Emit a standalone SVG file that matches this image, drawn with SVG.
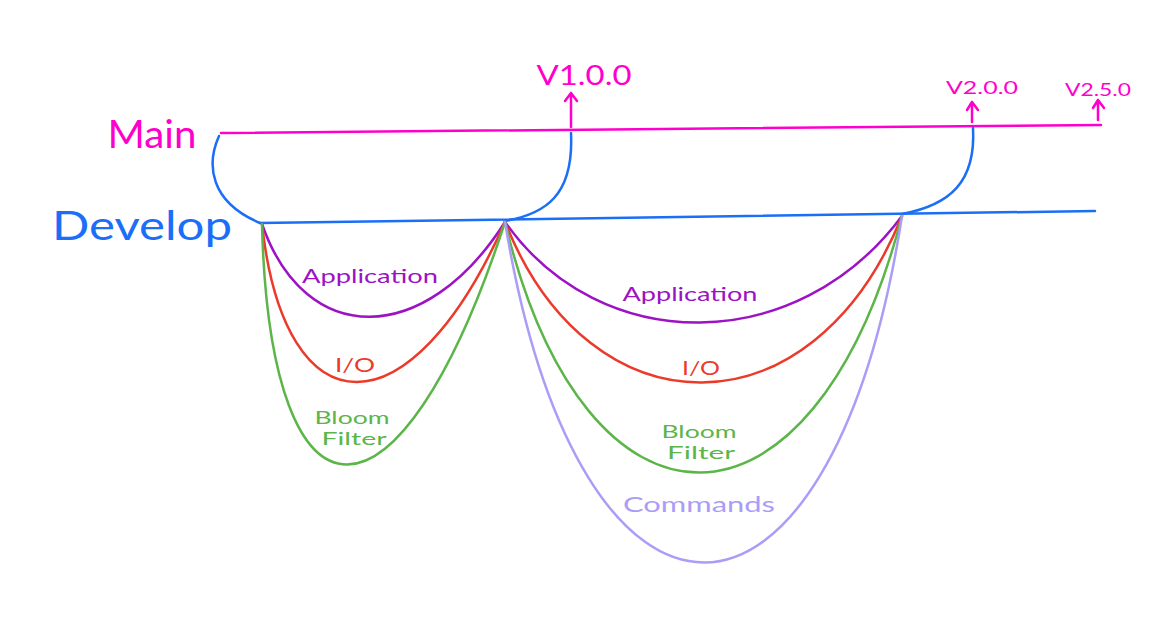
<svg xmlns="http://www.w3.org/2000/svg" width="1159" height="626" viewBox="0 0 1159 626">
<style>
  .ln { fill: none; stroke-width: 2.5; stroke-linecap: round; stroke-linejoin: round; }
  .mag { stroke: #f0c; }
  .blue { stroke: #1a6ef7; }
  .pur { stroke: #9c12c4; }
  .red { stroke: #ec3a2a; }
  .grn { stroke: #5cb548; }
  .lav { stroke: #aa9df8; }
  text { font-family: "Lato", "Noto Sans", sans-serif; text-anchor: middle; }
  .tmag { fill: #f0c; }
  .tblue { fill: #1a6ef7; }
  .tpur { fill: #9c12c4; }
  .tred { fill: #ec3a2a; }
  .tgrn { fill: #5cb548; }
  .tlav { fill: #aa9df8; }
</style>
<rect width="1159" height="626" fill="#fff"/>

<g id="main">
  <text class="tmag" x="152" y="148" font-size="38" textLength="89" lengthAdjust="spacingAndGlyphs">Main</text>
</g>
<g id="develop">
  <text class="tblue" x="142" y="240" font-size="40" textLength="180" lengthAdjust="spacingAndGlyphs">Develop</text>
</g>
<g id="v100">
  <text class="tmag" x="584" y="85" font-size="26" textLength="95" lengthAdjust="spacingAndGlyphs">V1.0.0</text>
</g>
<g id="v200">
  <text class="tmag" x="982" y="94" font-size="18" textLength="72" lengthAdjust="spacingAndGlyphs">V2.0.0</text>
</g>
<g id="v250">
  <text class="tmag" x="1098" y="96" font-size="18" textLength="66" lengthAdjust="spacingAndGlyphs">V2.5.0</text>
</g>

<g id="labels-1">
  <text class="tpur" x="370" y="283" font-size="20" textLength="136" lengthAdjust="spacingAndGlyphs">Application</text>
  <text class="tred" x="355" y="372" font-size="19" textLength="40" lengthAdjust="spacingAndGlyphs">I/O</text>
  <text class="tgrn" x="352" y="424" font-size="17" textLength="75" lengthAdjust="spacingAndGlyphs">Bloom</text>
  <text class="tgrn" x="354" y="445" font-size="17" textLength="65" lengthAdjust="spacingAndGlyphs">Filter</text>
</g>
<g id="labels-2">
  <text class="tpur" x="690" y="301" font-size="20" textLength="135" lengthAdjust="spacingAndGlyphs">Application</text>
  <text class="tred" x="701" y="375" font-size="19" textLength="38" lengthAdjust="spacingAndGlyphs">I/O</text>
  <text class="tgrn" x="699" y="438" font-size="17" textLength="75" lengthAdjust="spacingAndGlyphs">Bloom</text>
  <text class="tgrn" x="701" y="459" font-size="17" textLength="68" lengthAdjust="spacingAndGlyphs">Filter</text>
  <text class="tlav" x="699" y="512" font-size="22" textLength="152" lengthAdjust="spacingAndGlyphs">Commands</text>
</g>

<g id="connectors">
  <path class="ln mag" d="M221,133 L1101,125"/>
  <path class="ln mag" d="M571,127 L571,93 M565,101 L571,93 L577,101"/>
  <path class="ln mag" d="M972,122 L972,102 M967,110 L972,102 L978,110"/>
  <path class="ln mag" d="M1098,120 L1098,100 M1093,108 L1098,100 L1104,108"/>

  <path class="ln blue" d="M260,223 L1095,211"/>
  <path class="ln blue" d="M219,136 C206,165 210,202 260,223"/>
  <path class="ln blue" d="M505,221 C545,214 574,196 571,133"/>
  <path class="ln blue" d="M902,214 C950,205 976,182 973,128"/>

  <path class="ln pur" d="M262,224 C305,348 425,348 505,222"/>
  <path class="ln red" d="M262,224 C285,435 411,435 505,222"/>
  <path class="ln grn" d="M262,224 C270,545 400,545 505,222"/>

  <path class="ln pur" d="M505,222 C600,357 797,357 902,216"/>
  <path class="ln red" d="M505,222 C590,437 813,437 902,216"/>
  <path class="ln grn" d="M505,222 C585,557 813,557 902,216"/>
  <path class="ln lav" d="M505,222 C580,677 830,677 902,216"/>
</g>
</svg>
